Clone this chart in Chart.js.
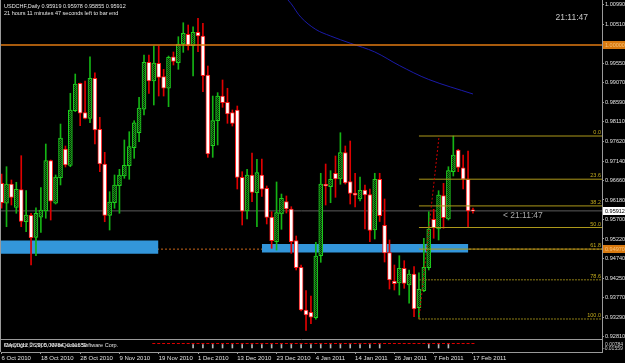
<!DOCTYPE html>
<html><head><meta charset="utf-8">
<script src="https://cdn.jsdelivr.net/npm/chart.js@4.4.1/dist/chart.umd.min.js"></script>
<style>html,body{margin:0;padding:0;background:#000;overflow:hidden}#wrap{width:625px;height:363px;position:relative}canvas{display:block}</style>
</head><body><div id="wrap"><canvas id="c" width="625" height="363"></canvas></div>
<script>
// ---------- data ----------
const SYMBOL = 'USDCHF,Daily';
const TIMER_TEXT = '21 hours 11 minutes 47 seconds left to bar end';
const CLOCK = '21:11:47';
const DATE_LABELS = ['6 Oct 2010','18 Oct 2010','28 Oct 2010','9 Nov 2010','19 Nov 2010','1 Dec 2010','13 Dec 2010','23 Dec 2010','4 Jan 2011','14 Jan 2011','26 Jan 2011','7 Feb 2011','17 Feb 2011'];
const LABEL_EVERY = 8;
const OPEN = [0.96592,0.96099,0.96574,0.96000,0.96434,0.95645,0.95803,0.95261,0.95754,0.95909,
0.97148,0.96099,0.96729,0.97436,0.97034,0.98380,0.99055,0.98331,0.98192,0.99178,
0.97921,0.97066,0.95803,0.96113,0.96532,0.96771,0.97025,0.97469,0.97837,0.98414,
0.99571,0.99111,0.99547,0.99217,0.98932,0.99709,0.99561,1.00022,1.00261,0.99981,
1.00310,1.00219,0.99259,0.97518,0.98133,0.98741,0.98586,0.98331,0.98397,0.96739,
0.95909,0.96796,0.96360,0.96796,0.96469,0.95761,0.95153,0.95835,0.96138,0.95959,
0.95178,0.94522,0.93471,0.93414,0.93281,0.94808,0.96567,0.96508,0.96838,0.96697,
0.97345,0.96631,0.96352,0.96209,0.96426,0.96315,0.95441,0.96692,0.95557,0.94882,
0.94185,0.94135,0.94498,0.94086,0.94357,0.93527,0.93946,0.94513,0.95705,0.95466,
0.96286,0.95712,0.96877,0.97411,0.96975,0.96690,0.95919];
const HIGH = [0.96820,0.97000,0.96673,0.96616,0.97271,0.96409,0.95853,0.95990,0.96483,0.97559,
0.97165,0.96796,0.98051,0.97510,0.98808,0.99283,0.99062,0.99111,0.99709,0.99315,
0.98217,0.97354,0.96384,0.96796,0.96936,0.97658,0.97862,0.98133,0.98709,0.99751,
0.99751,0.99973,0.99973,0.99399,0.99726,0.99825,1.00202,1.00546,1.00490,1.00448,
1.00655,1.00531,0.99480,0.98741,0.98823,0.99136,0.98932,0.98397,0.98495,0.96877,
0.96936,0.97337,0.97182,0.97185,0.96525,0.95892,0.96624,0.96327,0.96279,0.96015,
0.95293,0.94579,0.93946,0.93815,0.95138,0.96838,0.97066,0.96902,0.97264,0.97837,
0.97510,0.97633,0.96838,0.96747,0.96550,0.96446,0.96838,0.96838,0.96205,0.95195,
0.94579,0.94808,0.94685,0.94456,0.94537,0.94389,0.95237,0.95892,0.95951,0.96409,
0.96591,0.97000,0.97756,0.97429,0.97288,0.97387,0.95978];
const LOW = [0.95976,0.95522,0.96057,0.95853,0.95522,0.95399,0.94579,0.94808,0.95384,0.95730,
0.95687,0.96081,0.96550,0.96993,0.97000,0.98355,0.98010,0.98175,0.98083,0.97559,
0.96877,0.95645,0.95441,0.95976,0.95853,0.96715,0.96690,0.97207,0.97616,0.98274,
0.98808,0.98520,0.98741,0.98741,0.98478,0.99505,0.99399,0.99817,0.99874,0.99234,
0.99832,0.98847,0.97231,0.97231,0.97535,0.98463,0.98069,0.98002,0.96451,0.95564,
0.95712,0.96138,0.95522,0.96266,0.95589,0.94990,0.94948,0.95458,0.95860,0.94867,
0.94456,0.93446,0.92966,0.93133,0.93242,0.94645,0.96057,0.96113,0.96246,0.96567,
0.96574,0.96081,0.96008,0.96155,0.95466,0.95153,0.95219,0.95650,0.94653,0.93988,
0.93963,0.93840,0.94005,0.93636,0.93306,0.93249,0.93921,0.94456,0.95237,0.95195,
0.95483,0.95687,0.96771,0.96877,0.96451,0.95507,0.95855];
const CLOSE = [0.96113,0.96574,0.96241,0.96444,0.95655,0.95811,0.95251,0.95853,0.95934,0.97148,
0.96148,0.96747,0.97707,0.97042,0.98397,0.99037,0.98316,0.98192,0.99178,0.97904,
0.97066,0.95803,0.96131,0.96550,0.96796,0.97034,0.97493,0.98083,0.98446,0.99571,
0.99111,0.99554,0.99202,0.98932,0.99694,0.99591,1.00022,1.00286,0.99981,1.00310,
1.00219,0.99242,0.97312,0.98133,0.98741,0.98577,0.98298,0.98069,0.96739,0.95902,
0.96796,0.96365,0.96853,0.96444,0.95749,0.95178,0.95868,0.96222,0.95959,0.95153,
0.94513,0.93471,0.93348,0.93291,0.94800,0.96574,0.96525,0.96690,0.96697,0.97345,
0.96599,0.96345,0.96296,0.96421,0.96308,0.95429,0.96692,0.95793,0.94874,0.94209,
0.94118,0.94498,0.94128,0.94357,0.93495,0.93980,0.94522,0.95466,0.95490,0.96303,
0.95744,0.96902,0.97288,0.96980,0.96690,0.95909,0.95912];
const Y_TICKS = [1.00990,1.00510,0.99550,0.99070,0.98590,0.98110,0.97620,0.97140,0.96660,0.96180,0.95700,0.95220,0.94740,0.94250,0.93770,0.93290,0.92810];
const PARITY_LEVEL = 1.00000;
const SUPPORT_LEVEL = 0.94970;
const BID = 0.95912;
const MA_BARS = [58,59,61,64,67,71,76,81,87,96];
const MA_VALUES = [1.01150,1.01010,1.00675,1.00380,1.00219,1.00042,0.99826,0.99493,0.99148,0.98791];
const ZONE_FROM = [-0.2, 53.0];
const ZONE_TO = [31.95, 95.05];
const ZONE_TOP = [0.95183, 0.95094];
const ZONE_BOTTOM = [0.94855, 0.94887];
const FIB_LOW = 0.93249, FIB_HIGH = 0.97756;
const FIB_LOW_BAR = 85, FIB_HIGH_BAR = 89.1;
const FIB_LEVELS = [0.0, 23.6, 38.2, 50.0, 61.8, 78.6, 100.0];
const SUB_TICK_BARS = [39,41,43,45,47,49,51,53,55,57,59,61,63,65,67,69,71,73,75,77,87,89,91];
const SUB_TICK_RANGE = [-0.00856, -0.00036];
const SUB_DOT_BARS = [31,32,33,34,35,36,37,38,39,40,41,42,43,44,45,46,47,48,49,50,51,52,53,54,55,56,57,58,59,60,61,62,63,64,65,66,67,68,69,70,71,72,73,74,75,76,77,78,79,80,81,82,83,84,85,86,87,88,89,90,91,92,93,94,95,96];
const SUB_DOT_VALUE = 0.00198;
const SUB_LABELS = ['0.00784','-0.01559'];
const SUB_NAME = 'MACD(12,26,9) 0.00784 -0.01559';
const SUB_COPYRIGHT = 'Copyright \u00a9 2005, MetaQuotes Software Corp.';

// ---------- layout / style ----------
const XMIN = -0.122, XMAX = 122.28;
const YMIN = 0.92436, YMAX = 1.01106;
const SUB_MIN = -0.01793, SUB_MAX = 0.80680;
const SUBWINDOW_TOP = 339.5;
const FONT = '"Liberation Sans", Arial, sans-serif';
const BULL_EDGE = '#1ed01e', BEAR_EDGE = '#ff1a1a';
const BULL_WICK = '#14b414', BEAR_WICK = '#e00000';
const ZONE_COLOR = '#3396da';

const canvas = document.getElementById('c');
const ctx0 = canvas.getContext('2d');
const pc = document.createElement('canvas'); pc.width = 2; pc.height = 2;
const pg = pc.getContext('2d');
pg.fillStyle = '#062806'; pg.fillRect(0,0,2,2);
pg.fillStyle = '#1a8a1a'; pg.fillRect(0,0,1,1); pg.fillRect(1,1,1,1);
const BULL_FILL = ctx0.createPattern(pc, 'repeat');

const N = OPEN.length;
const bull = OPEN.map((o,i) => CLOSE[i] > o);
const bodyData = OPEN.map((o,i) => ({x:i, y:[o, CLOSE[i]]}));
const wickData = HIGH.map((h,i) => ({x:i, y:[LOW[i], h]}));

function hline(level, from, to, color, width, dash, order) {
  return {type:'line', data:[{x:from,y:level},{x:to,y:level}], borderColor:color, borderWidth:width, borderDash:dash, pointRadius:0, fill:false, order:order};
}

const datasets = [];
datasets.push(hline(SUPPORT_LEVEL, XMIN, XMAX, '#c8661a', 1, [2,2], 12));
ZONE_FROM.forEach((f,k) => {
  datasets.push({type:'line', data:[{x:f,y:ZONE_TOP[k]},{x:ZONE_TO[k],y:ZONE_TOP[k]}], borderWidth:0, borderColor:'rgba(0,0,0,0)', pointRadius:0, fill:false, order:10});
  datasets.push({type:'line', data:[{x:f,y:ZONE_BOTTOM[k]},{x:ZONE_TO[k],y:ZONE_BOTTOM[k]}], borderWidth:0, borderColor:'rgba(0,0,0,0)', pointRadius:0, fill:'-1', backgroundColor:ZONE_COLOR, order:10});
});
datasets.push(hline(BID, XMIN, XMAX, '#5c5c5c', 1, [], 8));
datasets.push({type:'bar', data:wickData, barThickness:1, grouped:false, borderWidth:0,
  backgroundColor: bull.map(b => b ? BULL_WICK : BEAR_WICK), order:6});
datasets.push({type:'bar', data:bodyData, barThickness:4, grouped:false, borderWidth:1, borderSkipped:false, minBarLength:1,
  backgroundColor: bull.map(b => b ? BULL_FILL : '#ffffff'),
  borderColor: bull.map(b => b ? BULL_EDGE : BEAR_EDGE), order:5});
datasets.push(hline(PARITY_LEVEL, XMIN, XMAX, '#e07a12', 1.5, [], 2));
datasets.push({type:'line', data: MA_BARS.map((b,k)=>({x:b,y:MA_VALUES[k]})), borderColor:'#1a1aa8', borderWidth:1, pointRadius:0, tension:0.35, fill:false, order:2});
FIB_LEVELS.forEach(l => {
  const p = FIB_HIGH - (FIB_HIGH - FIB_LOW) * l / 100;
  datasets.push(hline(p, FIB_LOW_BAR, XMAX, l > 70 ? '#8f7f16' : '#ad991a', 1, l > 70 ? [2,1] : [], 2));
});
datasets.push({type:'line', data:[{x:FIB_LOW_BAR,y:FIB_LOW},{x:FIB_HIGH_BAR,y:FIB_HIGH}], borderColor:'#c80000', borderWidth:1, borderDash:[2,2], pointRadius:0, fill:false, order:1});
datasets.push({type:'bar', yAxisID:'ySub', data: SUB_TICK_BARS.map(b=>({x:b,y:SUB_TICK_RANGE})), barThickness:1, grouped:false, borderWidth:0, backgroundColor:'#b8b8b8', order:3});
datasets.push({type:'line', yAxisID:'ySub', data: SUB_DOT_BARS.map(b=>({x:b,y:SUB_DOT_VALUE})), showLine:false, pointStyle:'line', pointRadius:1.5, pointBorderColor:'#e00000', pointBorderWidth:1, order:3});

const mt4 = {
  id:'mt4',
  beforeDraw(chart) {
    const c = chart.ctx; c.save(); c.fillStyle = '#000000'; c.fillRect(0,0,chart.width,chart.height); c.restore();
  },
  afterDraw(chart) {
    const c = chart.ctx, a = chart.chartArea, x = chart.scales.x, y = chart.scales.y;
    c.save();
    c.strokeStyle = '#9a9a9a'; c.lineWidth = 1;
    c.beginPath(); c.moveTo(0.5, 0); c.lineTo(0.5, a.bottom);
    c.moveTo(a.left, SUBWINDOW_TOP); c.lineTo(a.right, SUBWINDOW_TOP); c.stroke();
    c.font = '5.5px ' + FONT; c.fillStyle = '#c4ac1c'; c.textAlign = 'right'; c.textBaseline = 'bottom';
    FIB_LEVELS.forEach(l => {
      const p = FIB_HIGH - (FIB_HIGH - FIB_LOW) * l / 100;
      c.fillText(l.toFixed(1), a.right - 1, y.getPixelForValue(p) - 0.5);
    });
    c.textAlign = 'left'; c.textBaseline = 'middle'; c.fillStyle = '#e6e6e6'; c.font = '5.5px ' + FONT;
    c.fillText(SYMBOL + ' ' + [OPEN[N-1],HIGH[N-1],LOW[N-1],CLOSE[N-1]].map(v=>v.toFixed(5)).join(' '), 4, 6);
    c.fillText(TIMER_TEXT, 4, 13);
    c.font = '8.5px ' + FONT; c.fillStyle = '#c8c8c8'; c.textAlign = 'right';
    c.fillText(CLOCK, 588, 18);
    c.textAlign = 'left'; c.fillStyle = '#a8a8a8';
    c.fillText('< ' + CLOCK, x.getPixelForValue(N-1) + 30, y.getPixelForValue(BID) + 5);
    function box(val, bg, fg) {
      const py = Math.round(y.getPixelForValue(val));
      c.fillStyle = bg; c.fillRect(a.right + 1, py - 4, chart.width - a.right - 1, 8);
      c.fillStyle = fg; c.font = '5.5px ' + FONT; c.textAlign = 'left'; c.textBaseline = 'middle';
      c.fillText(val.toFixed(5), a.right + 3, py);
    }
    box(PARITY_LEVEL, '#d97a10', '#f6c27a');
    box(SUPPORT_LEVEL, '#d97a10', '#f6c27a');
    box(BID, '#ffffff', '#000000');
    c.font = '5.5px ' + FONT; c.fillStyle = '#e0e0e0'; c.textAlign = 'left'; c.textBaseline = 'middle';
    c.fillText(SUB_NAME, 4, 345.5);
    c.fillText(SUB_COPYRIGHT, 4, 345.5);
    c.font = '5px ' + FONT; c.fillStyle = '#d0d0d0';
    c.fillText(SUB_LABELS[0], a.right + 3, 344.5);
    c.fillText(SUB_LABELS[1], a.right + 1, 349);
    c.restore();
  }
};

new Chart(canvas, {
  type:'bar',
  data:{datasets},
  plugins:[mt4],
  options:{
    responsive:false, devicePixelRatio:1, animation:false, events:[],
    layout:{autoPadding:false, padding:{left:1, right:0, top:0, bottom:0}},
    plugins:{legend:{display:false}, tooltip:{enabled:false}, title:{display:false}},
    scales:{
      x:{type:'linear', min:XMIN, max:XMAX, offset:false, position:'bottom',
        afterFit(s){ s.height = 11; s.paddingLeft = 0; s.paddingRight = 0; },
        afterBuildTicks(s){ s.ticks = DATE_LABELS.map((_,k)=>({value:k*LABEL_EVERY})); },
        ticks:{autoSkip:false, maxRotation:0, minRotation:0, align:'start', padding:1, color:'#e0e0e0',
          font:{family:FONT, size:6}, callback:(v)=>DATE_LABELS[Math.round(v/LABEL_EVERY)]},
        grid:{display:true, drawOnChartArea:false, drawTicks:true, tickLength:2, color:'#9a9a9a', offset:false},
        border:{display:true, color:'#9a9a9a', width:1}
      },
      y:{type:'linear', position:'right', min:YMIN, max:YMAX,
        afterFit(s){ s.width = 23; s.paddingTop = 0; s.paddingBottom = 0; },
        afterBuildTicks(s){ s.ticks = Y_TICKS.map(v=>({value:v})); },
        ticks:{autoSkip:false, padding:1, color:'#e0e0e0', font:{family:FONT, size:5.6}, callback:(v)=>Number(v).toFixed(5)},
        grid:{display:true, drawOnChartArea:false, drawTicks:true, tickLength:2, color:'#9a9a9a'},
        border:{display:true, color:'#9a9a9a', width:1}
      },
      ySub:{type:'linear', display:false, min:SUB_MIN, max:SUB_MAX}
    }
  }
});
</script></body></html>
